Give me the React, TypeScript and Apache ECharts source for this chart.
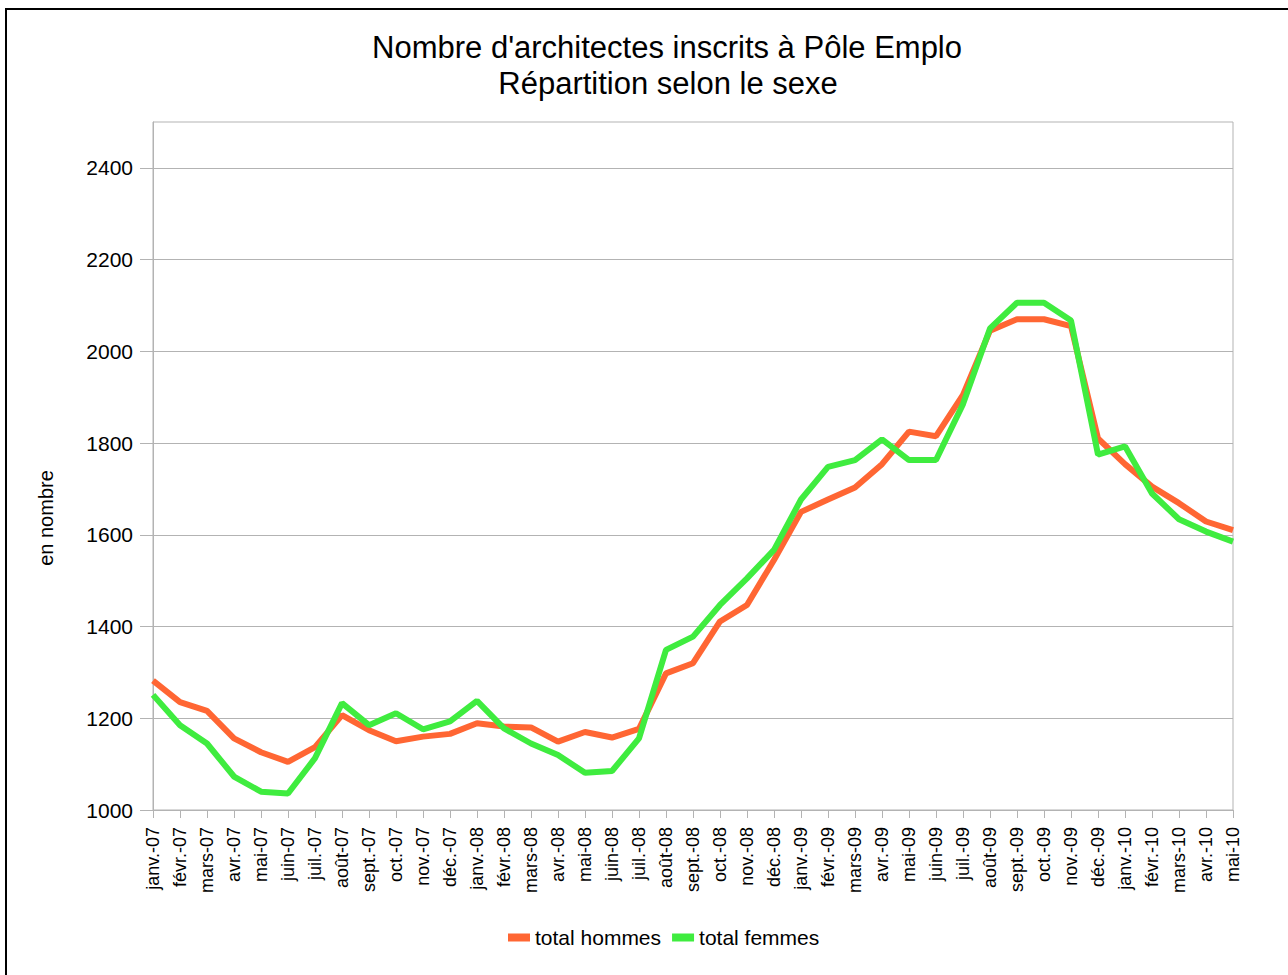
import React, { useEffect, useRef } from "react";
import * as echarts from "echarts";

const months = [
  "janv.-07", "févr.-07", "mars-07", "avr.-07", "mai-07", "juin-07", "juil.-07", "août-07", "sept.-07", "oct.-07", "nov.-07", "déc.-07",
  "janv.-08", "févr.-08", "mars-08", "avr.-08", "mai-08", "juin-08", "juil.-08", "août-08", "sept.-08", "oct.-08", "nov.-08", "déc.-08",
  "janv.-09", "févr.-09", "mars-09", "avr.-09", "mai-09", "juin-09", "juil.-09", "août-09", "sept.-09", "oct.-09", "nov.-09", "déc.-09",
  "janv.-10", "févr.-10", "mars-10", "avr.-10", "mai-10",
];

const hommes = [
  1282, 1235, 1216, 1156, 1126, 1105, 1137, 1207, 1174, 1150, 1160, 1166,
  1189, 1182, 1180, 1149, 1170, 1158, 1177, 1298, 1320, 1411, 1447, 1545,
  1650, 1677, 1703, 1754, 1825, 1815, 1905, 2045, 2070, 2070, 2055, 1810,
  1754, 1705, 1669, 1629, 1610,
];

const femmes = [
  1251, 1185, 1145, 1073, 1040, 1036, 1113, 1233, 1185, 1211, 1176, 1193,
  1238, 1178, 1145, 1120, 1081, 1085, 1156, 1349, 1378, 1447, 1505, 1567,
  1677, 1748, 1763, 1808, 1763, 1763, 1885, 2050, 2106, 2106, 2067, 1775,
  1793, 1690, 1634, 1607, 1585,
];

const yTickLabels = [1000, 1200, 1400, 1600, 1800, 2000, 2200, 2400];

const titleLine1 = "Nombre d'architectes inscrits à Pôle Emplo";
const titleLine2 = "Répartition selon le sexe";
const yName = "en nombre";
const seriesNames = ["total hommes", "total femmes"];

const FONT = "'Liberation Sans', Arial, sans-serif";
const ORANGE = "#ff6633";
const GREEN = "#3fec3f";
const GRID = "#b3b3b3";

export default function App() {
  const ref = useRef<HTMLDivElement>(null);

  useEffect(() => {
    document.body.style.margin = "0";
    if (!ref.current) return;
    const chart = echarts.init(ref.current, undefined, { renderer: "svg" });
    chart.setOption({
      animation: false,
      backgroundColor: "#ffffff",
      textStyle: { fontFamily: FONT },
      graphic: [
        {
          type: "rect",
          shape: { x: 6, y: 9, width: 1400, height: 1100 },
          style: { fill: "none", stroke: "#000", lineWidth: 2 },
          silent: true,
        },
        {
          type: "text",
          x: 667,
          y: 47,
          style: { text: titleLine1, font: `31px ${FONT}`, fill: "#000", align: "center", verticalAlign: "middle" },
        },
        {
          type: "text",
          x: 668,
          y: 83,
          style: { text: titleLine2, font: `31px ${FONT}`, fill: "#000", align: "center", verticalAlign: "middle" },
        },
        {
          type: "text",
          x: 46,
          y: 518,
          rotation: Math.PI / 2,
          style: { text: yName, font: `20px ${FONT}`, fill: "#000", align: "center", verticalAlign: "middle" },
        },
      ],
      grid: {
        left: 153,
        top: 122,
        right: 55,
        bottom: 165,
        show: true,
        borderColor: GRID,
        borderWidth: 1,
        backgroundColor: "transparent",
      },
      legend: {
        left: 503,
        top: 922,
        icon: "rect",
        itemWidth: 22,
        itemHeight: 8,
        itemGap: 11,
        textStyle: { fontSize: 21, color: "#000", fontFamily: FONT },
        data: seriesNames,
      },
      xAxis: {
        type: "category",
        data: months,
        boundaryGap: false,
        axisLine: { lineStyle: { color: GRID, width: 1 } },
        axisTick: { show: true, length: 8, lineStyle: { color: GRID }, alignWithLabel: true },
        axisLabel: {
          rotate: 90,
          interval: 0,
          fontSize: 18,
          color: "#000",
          margin: 17,
          fontFamily: FONT,
        },
        splitLine: { show: false },
      },
      yAxis: {
        type: "value",
        min: 1000,
        max: 2500,
        interval: 100,
        axisLine: { show: true, lineStyle: { color: GRID, width: 1 } },
        axisTick: { show: true, length: 13, lineStyle: { color: GRID }, customValues: yTickLabels },
        axisLabel: {
          fontSize: 21,
          color: "#000",
          margin: 20,
          fontFamily: FONT,
          customValues: yTickLabels,
          formatter: (v: number) => String(v),
        },
        splitLine: { show: true, lineStyle: { color: GRID, width: 1 } },
      },
      series: [
        {
          name: seriesNames[0],
          type: "line",
          data: hommes,
          showSymbol: false,
          symbol: "none",
          lineStyle: { color: ORANGE, width: 6 },
          itemStyle: { color: ORANGE },
        },
        {
          name: seriesNames[1],
          type: "line",
          data: femmes,
          showSymbol: false,
          symbol: "none",
          lineStyle: { color: GREEN, width: 6 },
          itemStyle: { color: GREEN },
        },
      ],
    });
    return () => chart.dispose();
  }, []);

  return <div ref={ref} style={{ width: 1288, height: 975 }} />;
}
